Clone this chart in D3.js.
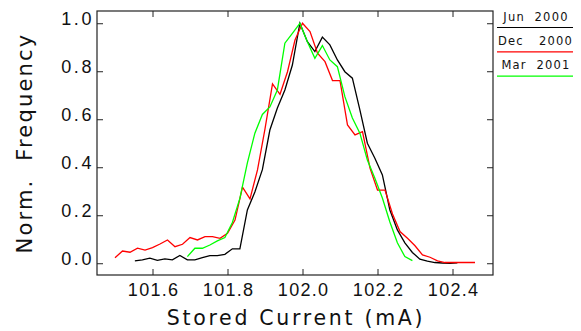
<!DOCTYPE html>
<html>
<head>
<meta charset="utf-8">
<script src="https://cdn.jsdelivr.net/npm/d3@7"></script>
<style>
  body { margin: 0; background: #fff; }
</style>
</head>
<body>
<script>
// histogram bin centres (mA) and normalised counts
const xJun = [101.553, 101.573, 101.593, 101.613, 101.633, 101.653, 101.673, 101.693, 101.713, 101.733,
  101.753, 101.773, 101.793, 101.813, 101.833, 101.853, 101.873, 101.893, 101.913, 101.933,
  101.953, 101.973, 101.993, 102.013, 102.033, 102.053, 102.073, 102.093, 102.113, 102.133,
  102.153, 102.173, 102.193, 102.213, 102.233, 102.253, 102.273, 102.293, 102.313, 102.333,
  102.353, 102.373, 102.393, 102.413];
const yJun = [0.01, 0.014, 0.021, 0.012, 0.018, 0.014, 0.032, 0.014, 0.014, 0.023,
  0.032, 0.032, 0.037, 0.06, 0.06, 0.222, 0.297, 0.39, 0.555, 0.647,
  0.722, 0.826, 1.0, 0.923, 0.882, 0.942, 0.91, 0.847, 0.798, 0.771,
  0.639, 0.5, 0.4375, 0.368, 0.222, 0.139, 0.085, 0.045, 0.017, 0.009,
  0.003, 0.001, 0.0, 0.002];

const xDec = [101.50, 101.52, 101.54, 101.56, 101.58, 101.60, 101.62, 101.64, 101.66, 101.68,
  101.70, 101.72, 101.74, 101.76, 101.78, 101.80, 101.82, 101.84, 101.86, 101.88,
  101.90, 101.92, 101.94, 101.96, 101.98, 102.00, 102.02, 102.04, 102.06, 102.08,
  102.10, 102.12, 102.14, 102.16, 102.18, 102.20, 102.22, 102.24, 102.26, 102.28,
  102.30, 102.32, 102.34, 102.36, 102.38, 102.40, 102.42, 102.44, 102.46];
const yDec = [0.023, 0.051, 0.046, 0.063, 0.055, 0.065, 0.080, 0.097, 0.069, 0.079,
  0.107, 0.097, 0.111, 0.111, 0.104, 0.125, 0.18, 0.317, 0.268, 0.389,
  0.56, 0.747, 0.704, 0.798, 0.93, 1.0, 0.965, 0.875, 0.84, 0.761,
  0.761, 0.576, 0.535, 0.548, 0.396, 0.305, 0.305, 0.205, 0.132, 0.104,
  0.073, 0.035, 0.025, 0.01, 0.003, 0.003, 0.004, 0.003, 0.003];

const xMar = [101.693, 101.713, 101.733, 101.753, 101.773, 101.793, 101.813, 101.833, 101.853, 101.873,
  101.893, 101.913, 101.933, 101.953, 101.973, 101.993, 102.013, 102.033, 102.053, 102.073,
  102.093, 102.113, 102.133, 102.153, 102.173, 102.193, 102.213, 102.233, 102.253, 102.273,
  102.293];
const yMar = [0.0275, 0.0625, 0.0625, 0.076, 0.093, 0.107, 0.17, 0.27, 0.418, 0.542,
  0.62, 0.651, 0.722, 0.917, 0.958, 1.0, 0.923, 0.854, 0.907, 0.847,
  0.819, 0.694, 0.605, 0.542, 0.43, 0.354, 0.272, 0.172, 0.085, 0.0275,
  0.011];

const seriesNames = ["Jun 2000", "Dec 2000", "Mar 2001"];
const seriesColors = ["#000000", "#ff0000", "#00ff00"];
const xTicks = [101.6, 101.8, 102.0, 102.2, 102.4];
const yTicks = [0.0, 0.2, 0.4, 0.6, 0.8, 1.0];

const width = 581, height = 331;
const plotLeft = 97, plotRight = 493, plotTop = 11, plotBottom = 275;
const font = "'DejaVu Sans', sans-serif";

const series = [
  {name: seriesNames[0], color: seriesColors[0], pts: xJun.map((v, i) => [v, yJun[i]])},
  {name: seriesNames[1], color: seriesColors[1], pts: xDec.map((v, i) => [v, yDec[i]])},
  {name: seriesNames[2], color: seriesColors[2], pts: xMar.map((v, i) => [v, yMar[i]])}
];

const x = d3.scaleLinear().domain([101.452, 102.508]).range([plotLeft, plotRight]);
const y = d3.scaleLinear().domain([-0.049, 1.051]).range([plotBottom, plotTop]);

const svg = d3.select("body").append("svg")
    .attr("width", width)
    .attr("height", height)
    .attr("font-family", font);

// inward ticks on all four sides
const tickLen = 6;
svg.append("g")
    .attr("transform", `translate(0,${plotBottom})`)
    .call(d3.axisBottom(x).tickValues(xTicks).tickSize(-tickLen).tickPadding(8).tickFormat(d3.format(".1f")))
    .call(g => g.select(".domain").remove())
    .call(g => g.selectAll("text")
        .attr("font-size", 18).attr("fill", "#111")
        .attr("letter-spacing", 1.3).attr("dx", 0.6));

svg.append("g")
    .attr("transform", `translate(0,${plotTop})`)
    .call(d3.axisTop(x).tickValues(xTicks).tickSize(-tickLen).tickFormat(""))
    .call(g => g.select(".domain").remove());

svg.append("g")
    .attr("transform", `translate(${plotLeft},0)`)
    .call(d3.axisLeft(y).tickValues(yTicks).tickSize(-tickLen).tickPadding(3).tickFormat(d3.format(".1f")))
    .call(g => g.select(".domain").remove())
    .call(g => g.selectAll("text")
        .attr("font-size", 18).attr("fill", "#111")
        .attr("letter-spacing", 2.6).attr("dy", "0.08em"));

svg.append("g")
    .attr("transform", `translate(${plotRight},0)`)
    .call(d3.axisRight(y).tickValues(yTicks).tickSize(-tickLen).tickFormat(""))
    .call(g => g.select(".domain").remove());

svg.selectAll(".tick line").attr("stroke", "#222");

svg.append("rect")
    .attr("x", plotLeft).attr("y", plotTop)
    .attr("width", plotRight - plotLeft).attr("height", plotBottom - plotTop)
    .attr("fill", "none").attr("stroke", "#222").attr("stroke-width", 1.2);

const line = d3.line().x(d => x(d[0])).y(d => y(d[1]));

svg.append("g")
    .attr("fill", "none")
    .attr("stroke-width", 1.3)
  .selectAll("path")
  .data(series)
  .join("path")
    .attr("stroke", d => d.color)
    .attr("d", d => line(d.pts));

// axis titles
svg.append("text")
    .attr("x", (plotLeft + plotRight) / 2 + 1)
    .attr("y", 325)
    .attr("text-anchor", "middle")
    .attr("font-size", 20.5)
    .attr("letter-spacing", 2.7)
    .attr("fill", "#111")
    .text("Stored Current (mA)");

svg.append("text")
    .attr("transform", `translate(32,${143}) rotate(-90)`)
    .attr("text-anchor", "middle")
    .attr("font-size", 21)
    .attr("letter-spacing", 2.2)
    .attr("fill", "#111")
    .attr("xml:space", "preserve")
    .text("Norm.  Frequency");

// legend to the right of the frame
const lg = svg.append("g").attr("font-size", 11.5).attr("fill", "#111");
series.forEach((s, i) => {
  const ly = 27.5 + i * 24.3;
  lg.append("line")
      .attr("x1", 497).attr("x2", 573)
      .attr("y1", ly).attr("y2", ly)
      .attr("stroke", s.color).attr("stroke-width", 1.2);
  if (i === 1) {
    const parts = s.name.split(" ");
    lg.append("text").attr("x", 498).attr("y", ly - 7).attr("letter-spacing", 1.2).text(parts[0]);
    lg.append("text").attr("x", 573).attr("y", ly - 7).attr("text-anchor", "end").attr("letter-spacing", 1.2).text(parts[1]);
  } else {
    lg.append("text")
        .attr("x", 536).attr("y", ly - 7)
        .attr("text-anchor", "middle")
        .attr("letter-spacing", 1.2)
        .attr("xml:space", "preserve")
        .text(s.name.replace(" ", "  "));
  }
});
</script>
</body>
</html>
